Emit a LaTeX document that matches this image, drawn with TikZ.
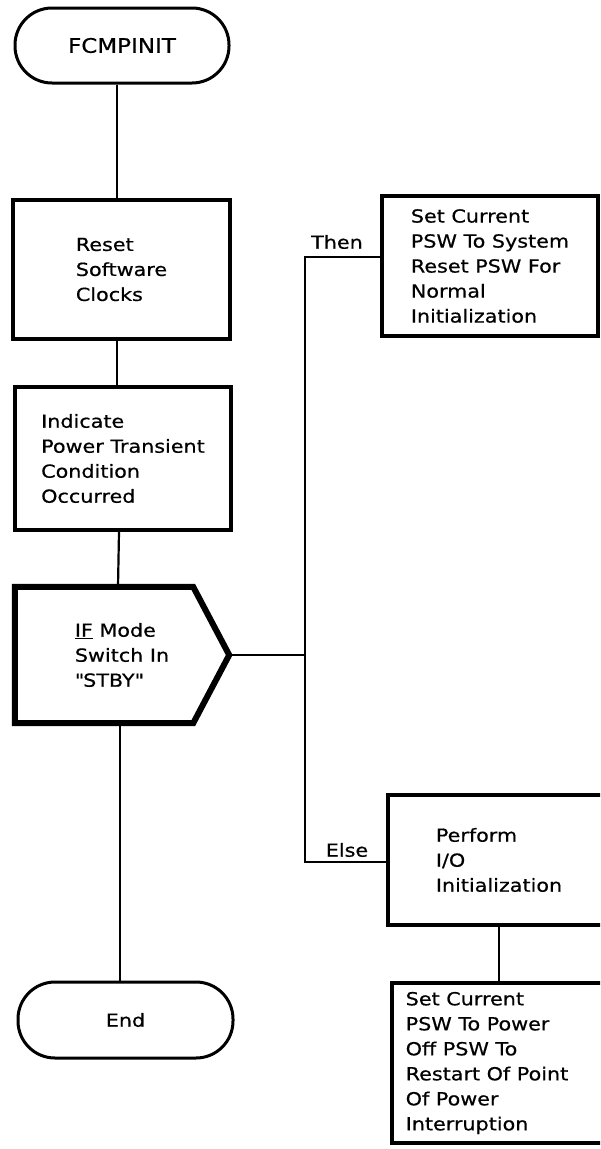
\documentclass[tikz,border=0pt]{standalone}
\usepackage{fontspec}
\setmainfont{DejaVu Sans}[FakeStretch=1.15,FakeBold=0.6]
\begin{document}
\begin{tikzpicture}[x=1pt,y=-1pt,
  every node/.style={font=\fontsize{18}{25}\selectfont},
  conn/.style={line width=2.2pt},
  box/.style={draw, line width=3.4pt, align=left, inner sep=0pt},
  term/.style={draw, line width=3pt, rounded corners=37pt, inner sep=0pt},
  lbl/.style={inner sep=0pt}]
\useasboundingbox (0,0) rectangle (600,1149);
\clip (0,0) rectangle (600,1149);
% main column
\node[term, minimum width=214pt, minimum height=75pt, font=\fontsize{20}{25}\selectfont] (start) at (122,45.5) {FCMPINIT};
\node[box, minimum width=217pt, minimum height=139pt] (reset) at (121.5,269.5) {Reset\\Software\\Clocks};
\node[box, minimum width=216pt, minimum height=143pt] (ind) at (123,458.5) {Indicate\\Power Transient\\Condition\\Occurred};
\node[align=left, inner sep=0pt, minimum width=214pt, minimum height=136pt] (if) at (122,655) {\underline{IF} Mode\\Switch In\\\textquotedbl STBY\textquotedbl};
\draw[line width=6pt, line join=miter] (if.north west) -- ([xshift=-36pt]if.north east) -- (if.east) -- ([xshift=-36pt]if.south east) -- (if.south west) -- cycle;
\node[term, minimum width=215pt, minimum height=76pt] (end) at (125.5,1020) {End};
% right column
\node[box, minimum width=216pt, minimum height=140pt] (then) at (490,266) {Set Current\\PSW To System\\Reset PSW For\\Normal\\Initialization};
\node[box, minimum width=222pt, minimum height=130pt] (perf) at (499,860) {Perform\\I/O\\Initialization};
\node[box, minimum width=216pt, minimum height=160pt] (last) at (500,1063) {Set Current\\PSW To Power\\Off PSW To\\Restart Of Point\rule{26pt}{0pt}\\Of Power\\Interruption};
% labels
\node[lbl] (thenlbl) at (337,242) {Then};
\node[lbl] (elselbl) at (347,850) {Else};
% connectors
\coordinate (cx) at (117,0);
\coordinate (jt) at (305,257);
\coordinate (je) at (305,862);
\draw[conn] (start.south -| cx) -- (reset.north -| cx);
\draw[conn] (reset.south -| cx) -- (ind.north -| cx);
\draw[conn] ([xshift=-4pt]ind.south) -- ([xshift=-4pt]if.north);
\draw[conn] ([xshift=-2pt]if.south) -- ([xshift=-2pt]if.south |- end.north);
\draw[conn] (if.east) -- (if.east -| jt);
\draw[conn] (jt -| then.west) -- (jt) -- (je) -- (je -| perf.west);
\draw[conn] (perf.south) -- (perf.south |- last.north);
\end{tikzpicture}
\end{document}
